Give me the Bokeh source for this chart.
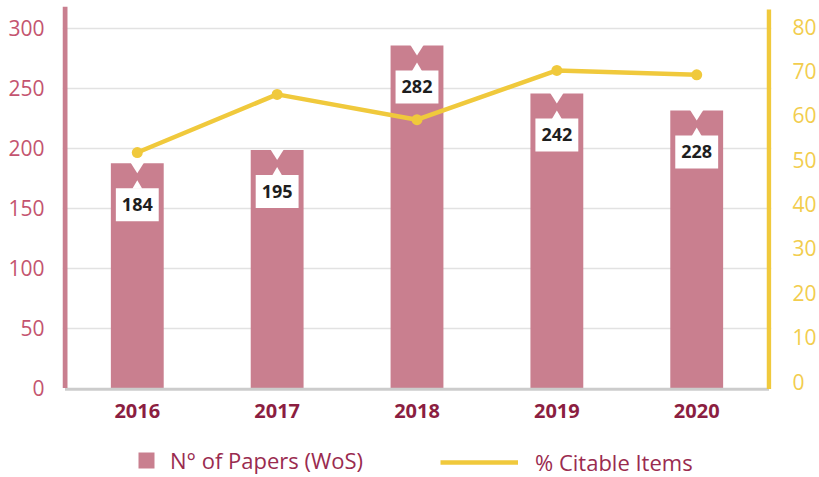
from bokeh.plotting import figure
from bokeh.models import Range1d, LinearAxis, FixedTicker, Legend, LegendItem
from bokeh.core.properties import value
from bokeh.embed import file_html
from bokeh.resources import INLINE

years = ["2016", "2017", "2018", "2019", "2020"]
papers = [184, 195, 282, 242, 228]
citable = [51.6, 64.7, 59.0, 70.1, 69.1]
left_ticks = [0, 50, 100, 150, 200, 250, 300]
right_ticks = [0, 10, 20, 30, 40, 50, 60, 70, 80]

BAR = "#c97f8f"
YEL = "#f0c93c"
PINK_TXT = "#c4546f"
YEL_TXT = "#f2cd4e"
MAROON = "#8b1e41"
FONT = "Open Sans"

W, H = 819, 477
F_LEFT, F_RIGHT, F_TOP = 62, 773, 6          # frame edges (px)
ZERO_L, PX_L = 387.5, 1.2                    # left scale: px of 0, px per unit
ZERO_R, PX_R = 381.0, 4.4375                 # right scale
CX0, CSTEP = 137.0, 140.25                   # category centre geometry (px)


def px2x(px):
    return (px - CX0) / CSTEP


def dx(px):
    return px / CSTEP


def dy(px):
    return px / PX_L


y_lo, y_hi = -(H - ZERO_L) / PX_L, (ZERO_L - F_TOP) / PX_L
r_lo, r_hi = -(H - ZERO_R) / PX_R, (ZERO_R - F_TOP) / PX_R

p = figure(width=W, height=H, x_range=Range1d(px2x(F_LEFT), px2x(F_RIGHT)),
           y_range=Range1d(y_lo, y_hi), output_backend="svg",
           toolbar_location=None, min_border_left=F_LEFT,
           min_border_right=W - F_RIGHT, min_border_top=F_TOP,
           min_border_bottom=0, x_axis_location=None)
p.extra_y_ranges = {"right": Range1d(r_lo, r_hi)}
p.outline_line_color = None
p.background_fill_color = "white"
p.border_fill_color = "white"

xs = list(range(len(years)))
tops = [v + dy(4) for v in papers]

p.xgrid.grid_line_color = None
p.ygrid.ticker = FixedTicker(ticks=left_ticks[1:])
p.ygrid.grid_line_color = "#e2e2e2"
p.ygrid.grid_line_width = 1.5

bars = p.vbar(x=xs, top=tops, bottom=0, width=dx(53),
              fill_color=BAR, line_color=None)

# notches at the bar tops and value call-outs
notch_xs, notch_ys, ptr_xs, ptr_ys = [], [], [], []
for i, t in zip(xs, tops):
    notch_xs.append([i - dx(7), i + dx(7), i])
    notch_ys.append([t + dy(1), t + dy(1), t - dy(10)])
    ptr_xs.append([i - dx(5), i + dx(5), i])
    ptr_ys.append([t - dy(25.5), t - dy(25.5), t - dy(17)])
p.patches(notch_xs, notch_ys, fill_color="white", line_color=None)
p.patches(ptr_xs, ptr_ys, fill_color="white", line_color=None)
p.quad(left=[i - dx(21.5) for i in xs], right=[i + dx(21.5) for i in xs],
       top=[t - dy(25) for t in tops], bottom=[t - dy(58) for t in tops],
       fill_color="white", line_color=None)
p.text(x=xs, y=[t - dy(41) for t in tops], text=[str(v) for v in papers],
       text_align="center", text_baseline="middle", text_font_size="18px",
       text_font_style="bold", text_color="#1e1e1e", text_font=value(FONT))

# axis lines
x_axl, x_axr = px2x(64.5), px2x(770.5)
p.segment(x0=[x_axl], y0=[-dy(1.2)], x1=[x_axr], y1=[-dy(1.2)],
          line_color="#cccccc", line_width=3)
p.segment(x0=[x_axl], y0=[0], x1=[x_axl], y1=[y_hi],
          line_color=BAR, line_width=5)
p.segment(x0=[x_axr], y0=[-dy(1)], x1=[x_axr], y1=[y_hi - dy(3)],
          line_color=YEL, line_width=4.5)

line = p.line(xs, citable, y_range_name="right", line_color=YEL, line_width=4.5)
p.scatter(xs, citable, y_range_name="right", size=11, fill_color=YEL,
          line_color=None)

# category labels
p.text(x=xs, y=[-dy(23)] * len(xs), text=years, text_align="center",
       text_baseline="middle", text_font_size="20px", text_font_style="bold",
       text_color=MAROON, text_font=value(FONT))

# y axes
yax = p.yaxis[0]
yax.ticker = FixedTicker(ticks=left_ticks)
yax.axis_line_color = None
yax.major_tick_line_color = None
yax.minor_tick_line_color = None
yax.major_label_text_color = PINK_TXT
yax.major_label_text_font = FONT
yax.major_label_text_font_size = "21px"
yax.major_label_standoff = 12

rax = LinearAxis(y_range_name="right", ticker=FixedTicker(ticks=right_ticks))
rax.axis_line_color = None
rax.major_tick_line_color = None
rax.minor_tick_line_color = None
rax.major_label_text_color = YEL_TXT
rax.major_label_text_font = FONT
rax.major_label_text_font_size = "21px"
rax.major_label_standoff = 15
p.add_layout(rax, "right")

# legends
common = dict(padding=0, margin=0, border_line_color=None,
              background_fill_alpha=0, label_text_font=FONT,
              label_text_font_size="22px", label_text_color="#9a2b4f",
              label_height=20, glyph_height=20, orientation="horizontal")
leg1 = Legend(items=[LegendItem(label="N° of Papers (WoS)", renderers=[bars])],
              location=(136 - F_LEFT, H - 475), glyph_width=20,
              label_standoff=14, **common)
leg2 = Legend(items=[LegendItem(label="% Citable Items", renderers=[line])],
              location=(440 - F_LEFT, H - 477), glyph_width=78,
              label_standoff=17, **common)
p.add_layout(leg1, "center")
p.add_layout(leg2, "center")

open("out.html", "w").write(file_html(p, INLINE))
